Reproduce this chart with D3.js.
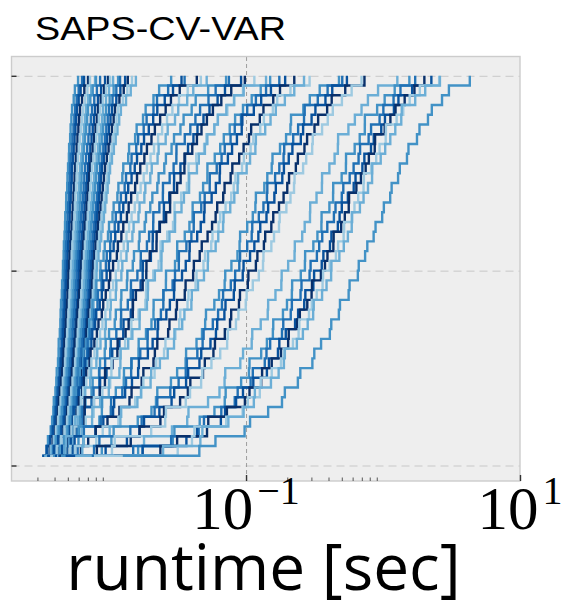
<!DOCTYPE html>
<html>
<head>
<meta charset="utf-8">
<title>SAPS-CV-VAR</title>
<style>
  body { margin: 0; background: #fff; }
  svg { display: block; }
  .grid line { stroke: #c8c8c8; stroke-width: 1; stroke-dasharray: 8,5; }
  .vgrid line { stroke: #8a8a8a; stroke-width: 0.8; stroke-dasharray: 4,3; }
  .grid path, .vgrid path, .ticks path { display: none; }
  .ticks line { stroke: #333; stroke-width: 1.4; }
  .minor line { stroke: #555; stroke-width: 1; }
</style>
</head>
<body>
<svg width="562" height="603"></svg>
<script src="https://d3js.org/d3.v7.min.js"></script>
<script>
// runtime of each run, in milliseconds; one array per instance (40 runs each)
const run01 = [3.25,3.5,3.58,3.75,3.84,3.92,3.95,4.06,4.12,4.15,4.24,4.28,4.29,4.37,4.41,4.43,4.46,4.52,4.54,4.6,4.61,4.66,4.68,4.73,4.77,4.79,4.86,4.87,4.95,4.97,5.02,5.09,5.11,5.2,5.24,5.31,5.37,5.52,5.63,5.94];
const run02 = [3.36,3.55,3.7,3.82,3.97,4.02,4.1,4.18,4.26,4.33,4.39,4.44,4.49,4.52,4.56,4.6,4.64,4.68,4.72,4.75,4.77,4.82,4.86,4.9,4.95,4.98,5.03,5.08,5.12,5.16,5.19,5.25,5.33,5.4,5.5,5.58,5.65,5.8,6.0,6.35];
const run03 = [3.25,3.5,3.72,3.9,4.03,4.1,4.18,4.27,4.33,4.4,4.46,4.52,4.58,4.62,4.67,4.72,4.76,4.8,4.85,4.9,4.93,4.98,5.03,5.07,5.12,5.16,5.2,5.25,5.3,5.34,5.37,5.45,5.52,5.6,5.68,5.76,5.84,6.0,6.2,6.57];
const run04 = [3.41,3.7,3.88,4.05,4.17,4.24,4.3,4.38,4.46,4.54,4.61,4.66,4.72,4.78,4.84,4.88,4.93,4.98,5.02,5.06,5.1,5.16,5.22,5.28,5.34,5.4,5.45,5.5,5.56,5.6,5.65,5.72,5.8,5.88,5.97,6.05,6.14,6.35,6.6,7.02];
const run05 = [3.47,3.75,3.95,4.1,4.24,4.32,4.42,4.5,4.6,4.7,4.77,4.82,4.88,4.94,5.0,5.05,5.1,5.15,5.2,5.24,5.28,5.34,5.4,5.46,5.52,5.58,5.63,5.68,5.74,5.8,5.84,5.92,6.02,6.12,6.25,6.36,6.46,6.7,6.95,7.26];
const run06 = [3.36,3.8,4.02,4.22,4.39,4.46,4.55,4.65,4.74,4.84,4.93,4.99,5.05,5.12,5.18,5.24,5.29,5.34,5.38,5.42,5.46,5.53,5.6,5.68,5.75,5.82,5.88,5.95,6.02,6.08,6.14,6.24,6.35,6.46,6.57,6.68,6.79,7.05,7.4,7.9];
const run07 = [3.59,3.9,4.12,4.3,4.46,4.55,4.64,4.74,4.84,4.93,5.02,5.08,5.15,5.22,5.3,5.37,5.43,5.5,5.56,5.6,5.65,5.72,5.8,5.88,5.96,6.03,6.1,6.17,6.24,6.3,6.35,6.45,6.56,6.67,6.8,6.92,7.02,7.3,7.6,8.03];
const run08 = [3.71,4.05,4.28,4.45,4.61,4.7,4.8,4.9,5.0,5.1,5.19,5.26,5.33,5.4,5.47,5.54,5.61,5.68,5.74,5.8,5.84,5.92,6.0,6.08,6.17,6.26,6.35,6.44,6.53,6.6,6.68,6.8,6.93,7.07,7.2,7.36,7.51,7.8,8.15,8.6];
const run09 = [3.53,3.95,4.25,4.5,4.69,4.8,4.92,5.04,5.15,5.27,5.37,5.44,5.52,5.6,5.68,5.76,5.83,5.9,5.96,6.0,6.04,6.13,6.22,6.32,6.42,6.52,6.62,6.72,6.82,6.92,7.02,7.16,7.3,7.45,7.6,7.75,7.9,8.3,8.75,9.35];
const run10 = [3.84,4.2,4.45,4.66,4.85,4.95,5.06,5.17,5.27,5.37,5.46,5.54,5.62,5.71,5.8,5.88,5.96,6.05,6.13,6.2,6.25,6.35,6.45,6.55,6.65,6.76,6.86,6.96,7.06,7.16,7.26,7.42,7.6,7.78,7.96,8.14,8.31,8.7,9.2,9.84];
const run11 = [3.71,4.15,4.45,4.72,4.93,5.04,5.16,5.28,5.41,5.53,5.65,5.73,5.82,5.91,6.0,6.09,6.18,6.27,6.36,6.42,6.46,6.56,6.66,6.77,6.88,6.99,7.1,7.2,7.3,7.4,7.51,7.7,7.88,8.06,8.24,8.42,8.6,9.0,9.5,10.17];
const run12 = [4.03,4.4,4.66,4.9,5.1,5.2,5.33,5.46,5.59,5.72,5.84,5.93,6.02,6.11,6.2,6.3,6.4,6.5,6.58,6.64,6.68,6.8,6.92,7.04,7.16,7.28,7.4,7.52,7.65,7.78,7.9,8.1,8.3,8.5,8.7,8.88,9.04,9.5,10.0,10.7];
const run13 = [3.9,4.35,4.7,4.98,5.19,5.3,5.45,5.58,5.7,5.82,5.94,6.04,6.14,6.25,6.36,6.47,6.58,6.69,6.8,6.86,6.9,7.02,7.15,7.28,7.4,7.53,7.66,7.79,7.92,8.05,8.17,8.4,8.62,8.84,9.06,9.28,9.51,10.1,10.8,11.64];
const run14 = [4.1,4.55,4.88,5.15,5.37,5.48,5.61,5.75,5.88,6.01,6.14,6.24,6.35,6.47,6.59,6.71,6.83,6.95,7.05,7.1,7.14,7.28,7.42,7.57,7.72,7.87,8.02,8.17,8.32,8.46,8.6,8.84,9.08,9.32,9.55,9.78,10.0,10.6,11.3,12.03];
const run15 = [4.03,4.55,4.92,5.22,5.46,5.6,5.75,5.9,6.06,6.21,6.35,6.46,6.57,6.69,6.81,6.93,7.05,7.17,7.28,7.34,7.39,7.54,7.69,7.84,7.99,8.14,8.29,8.44,8.59,8.74,8.89,9.16,9.43,9.7,9.97,10.25,10.52,11.3,12.1,13.1];
const run16 = [4.24,4.75,5.12,5.42,5.65,5.8,5.95,6.1,6.24,6.35,6.46,6.58,6.7,6.83,6.96,7.1,7.24,7.38,7.5,7.58,7.64,7.8,7.97,8.14,8.31,8.49,8.66,8.83,9.0,9.18,9.35,9.63,9.92,10.2,10.5,10.8,11.06,11.9,12.8,13.7];
const run17 = [4.17,4.72,5.15,5.48,5.74,5.9,6.06,6.22,6.38,6.53,6.68,6.8,6.93,7.06,7.19,7.33,7.47,7.61,7.75,7.84,7.9,8.08,8.27,8.46,8.65,8.84,9.04,9.24,9.44,9.64,9.84,10.14,10.44,10.74,11.04,11.34,11.64,12.6,13.6,14.7];
const run18 = [4.39,4.95,5.36,5.68,5.94,6.1,6.26,6.42,6.58,6.74,6.9,7.02,7.15,7.28,7.42,7.56,7.7,7.85,8.0,8.1,8.17,8.37,8.57,8.77,8.97,9.17,9.37,9.57,9.77,9.97,10.17,10.5,10.84,11.18,11.52,11.86,12.2,13.3,14.4,15.7];
const run19 = [4.66,4.86,4.95,5.18,5.24,5.47,5.7,5.76,6.05,6.11,6.46,6.51,6.75,7.09,7.15,7.5,7.56,8.02,8.08,8.6,8.66,9.12,9.3,9.82,9.99,10.6,10.8,11.5,11.7,12.5,12.7,13.8,14.0,15.5,15.9,17.7,18.5,21.1,23.2,28.4];
const run20 = [4.73,4.8,5.06,5.16,5.46,5.52,5.72,6.05,6.12,6.51,6.58,6.91,6.98,7.24,7.7,7.77,8.23,8.3,8.82,8.89,9.48,9.62,10.2,10.3,11.0,11.2,11.9,12.2,13.0,13.3,14.3,14.6,15.8,16.3,17.9,18.8,21.1,22.4,27.0,35.6];
const run21 = [4.61,4.8,4.91,5.21,5.44,5.51,5.89,6.0,6.34,6.6,6.71,7.09,7.43,7.54,7.91,8.06,8.55,8.85,9.08,9.6,9.98,10.2,10.8,11.1,11.7,12.2,12.7,13.3,13.8,14.6,15.4,16.0,17.2,18.0,19.5,21.0,22.5,25.5,29.3,33.8];
const run22 = [4.57,4.94,5.07,5.28,5.54,5.89,6.02,6.37,6.54,6.81,7.2,7.33,7.81,8.15,8.37,8.85,9.07,9.46,9.98,10.2,10.7,11.4,11.6,12.3,12.7,13.5,13.9,14.5,15.5,16.0,16.9,18.1,18.9,20.4,21.6,23.6,25.9,28.3,32.8,43.7];
const run23 = [4.58,4.75,5.11,5.31,5.56,5.92,6.22,6.47,6.82,7.18,7.43,7.83,8.19,8.59,8.95,9.4,9.75,10.2,10.7,11.2,11.7,12.2,12.8,13.4,14.0,14.6,15.4,16.1,17.0,17.9,18.9,20.1,21.3,22.8,24.4,26.5,29.0,32.4,37.5,46.8];
const run24 = [4.52,4.92,5.09,5.55,5.67,6.13,6.59,6.7,7.28,7.39,8.08,8.2,8.66,9.35,9.46,10.2,10.3,11.2,11.3,12.3,12.5,13.4,13.7,14.8,15.1,16.4,16.7,18.1,18.4,20.0,20.5,22.6,23.0,25.9,26.8,30.3,32.0,37.2,41.2,51.6];
const run25 = [4.59,4.73,5.3,5.52,6.16,6.3,6.73,7.45,7.59,8.45,8.59,9.3,9.45,10.0,11.0,11.2,12.2,12.3,13.5,13.6,14.9,15.2,16.5,16.7,18.2,18.6,20.0,20.7,22.5,23.0,25.3,26.0,28.6,29.8,33.2,35.0,40.1,42.9,52.9,71.5];
const run26 = [4.46,4.9,4.95,5.86,6.39,6.4,7.44,7.7,8.49,8.5,9.36,10.2,10.3,11.3,12.2,12.25,13.7,14.4,14.45,16.1,17.0,17.05,18.9,19.6,21.0,21.05,23.3,24.7,24.75,27.7,29.6,31.0,31.05,35.7,39.2,42.7,46.2,53.2,60.0,75.0];
const run27 = [4.36,5.22,5.25,6.03,6.64,6.65,7.75,8.56,8.6,9.58,10.5,10.55,11.9,12.7,12.75,14.4,14.9,14.95,17.0,17.6,17.65,20.2,20.8,20.85,23.3,25.1,25.15,27.5,29.8,29.85,33.2,35.9,37.7,41.3,44.2,48.9,54.1,62.0,70.2,92.0];
const run28 = [4.49,4.86,4.9,5.63,6.61,6.62,6.65,8.57,9.33,9.35,10.6,11.5,11.55,13.2,13.9,14.9,14.95,15.7,17.6,18.7,18.75,19.8,22.2,22.25,23.5,26.1,27.9,27.95,31.4,33.3,35.5,35.55,40.5,43.8,47.3,51.8,57.3,66.0,78.0,98.0];
const run29 = [4.34,5.19,5.55,5.6,6.76,7.73,7.75,8.94,10.2,10.4,10.45,12.1,13.1,14.5,14.55,16.4,18.4,18.6,18.65,21.0,23.0,23.7,23.75,26.6,29.3,30.0,30.05,33.6,37.0,38.0,38.05,43.3,49.4,51.3,58.6,62.2,73.1,81.5,95.0,115];
const run30 = [4.54,4.81,4.85,6.3,7.52,7.55,8.61,9.96,10.0,11.9,12.1,12.15,13.8,14.8,16.7,16.75,18.9,19.2,19.25,21.6,24.1,24.15,24.6,27.6,30.3,30.35,33.8,35.2,38.4,38.45,43.8,45.2,50.1,52.2,58.7,62.3,71.8,82.0,96.1,140];
const run31 = [4.54,5.44,5.98,6.0,8.5,8.86,8.9,11.2,12.8,12.85,14.6,16.4,16.45,18.6,20.4,21.1,21.15,24.9,26.0,26.05,30.3,31.4,31.45,35.7,38.6,40.7,40.75,46.1,48.6,52.2,52.25,59.1,64.8,68.8,76.0,83.2,95.0,110,128,150];
const run32 = [4.22,5.9,6.5,6.55,8.7,10.3,10.35,12.5,13.3,14.5,14.55,16.9,19.1,19.15,21.7,23.9,24.9,24.95,29.1,30.3,32.3,32.35,36.7,39.9,41.5,41.55,47.1,49.9,54.3,54.35,61.1,66.3,69.9,77.1,82.7,91.9,102,118,140,175];
const run33 = [4.71,5.48,5.6,7.95,9.08,10.7,10.9,13.1,14.7,16.3,16.5,19.2,20.8,22.6,22.8,26.2,27.8,29.8,30.0,34.1,36.3,38.6,38.8,44.0,46.7,49.4,49.8,56.1,60.2,64.2,64.5,73.7,79.1,85.8,93.0,94,114,129,152,193];
const run34 = [4.34,6.23,7.04,8.0,9.74,11.9,14.1,14.6,17.3,17.8,21.1,21.6,22.5,27.0,27.6,30.8,31.3,35.7,36.2,41.1,41.6,45.9,47.5,52.4,56.5,60.0,61.6,68.1,69.7,77.2,79.4,89.1,96,105,109,126,134,158,177,225];
const run35 = [5.02,5.63,8.07,8.99,11.7,12.3,15.5,17.2,17.8,21.5,22.1,25.2,25.8,30.5,32.5,33.1,37.4,38.0,42.8,43.5,48.9,50.2,55.7,56.9,63.0,64.8,70.9,78.0,81.3,83.7,93.5,96.5,108,113,127,135,157,169,211,291];
const run36 = [4.7,6.38,6.5,10.1,12.1,12.2,16.1,17.1,20.1,20.3,23.5,26.8,29.8,30.0,34.2,35.5,39.9,40.2,44.6,49.3,52.6,52.8,60.0,62.7,68.0,68.5,76.7,82.1,86.8,87.5,101,107,117,118,138,151,165,192,225,265];
const run37 = [4.44,8.85,10.4,10.8,16.2,20.4,22.0,22.5,28.3,31.4,36.2,36.5,43.5,47.7,50.3,51.0,58.7,63.5,69.8,70.5,78.2,86.6,89.7,90.5,102,112,117,118,136,143,154,156,177,196,211,213,262,292,345,477];
const run38 = [5.74,7.77,8.5,14.3,17.3,21.5,22.5,28.0,32.2,36.3,37.0,44.1,48.2,49.0,57.2,62.5,66.7,68.0,77.4,83.3,89.3,90.5,102,110,111,124,134,142,143,163,175,188,190,221,240,265,268,334,394,504];
const run39 = [4.82,9.44,13.5,16.7,18.0,23.3,28.6,29.9,36.5,37.8,45.7,47.1,55.0,60.3,61.6,69.5,70.8,81.4,82.7,94.6,95.9,107,115,123,127,141,145,161,165,184,189,205,218,251,261,301,321,380,426,545];
const run40 = [6.6,8.15,14.4,16.7,23.7,25.2,33.0,37.6,39.2,48.5,50.0,57.8,59.3,70.0,76.4,77.9,88.8,90.3,103,104,118,121,135,138,153,158,174,188,200,206,231,239,267,279,316,336,391,422,530,732];
const run41 = [6.07,10.5,11.0,20.3,25.7,26.0,36.3,39.0,47.0,48.0,55.9,64.8,72.8,73.5,84.4,88.0,99.5,101,112,124,133,134,153,160,174,176,197,211,224,226,261,275,304,307,359,395,430,501,590,697];
const run42 = [5.66,17.5,18.0,28.8,37.2,38.0,52.8,64.0,69.7,70.5,90.8,95.1,110,111,128,144,145,164,181,182,203,226,227,257,268,293,294,327,358,359,406,443,468,470,559,623,697,776,920,1272];
const run43 = [9.96,16.3,29.2,30.0,45.9,58.8,69.9,71.0,92.1,105,106,129,142,157,158,186,199,216,217,251,269,270,310,332,355,356,406,432,433,499,536,537,621,676,736,737,906,1028,1217,1557];
const run44 = [7.48,15.0,28.4,45.1,49.3,66.0,82.7,86.9,108,112,137,141,150,183,187,212,216,250,254,291,296,329,342,360,392,438,450,500,513,571,610,663,680,785,818,944,1006,1194,1341,1717];
const run45 = [12.8,17.6,36.7,43.9,65.5,70.3,84.6,95,113,142,147,171,175,195,228,240,266,271,310,314,357,367,410,420,468,482,500,554,611,630,707,731,817,856,971,1033,1201,1296,1632,2254];
const run46 = [10.9,23.7,31.4,51.9,53.0,72.5,98.1,106,129,131,154,180,203,205,236,247,280,301,303,352,377,393,434,436,495,526,562,565,639,690,747,788,870,875,1029,1132,1234,1439,1696,2004];
const run47 = [7.76,31.7,40.3,42.0,71.6,94.4,103,126,128,154,180,188,220,242,245,288,302,328,362,365,408,453,470,516,520,590,619,659,721,725,818,892,944,1046,1050,1257,1405,1565,1856,2568];
const run48 = [14.2,24.8,46.4,48.0,74.3,96.0,114,116,152,173,189,192,235,260,282,309,312,359,387,418,420,480,517,554,591,595,678,721,777,832,835,962,1037,1130,1229,1359,1370,1718,2033,2603];
const run49 = [12.6,45.6,59.8,97.6,107,145,183,192,239,249,305,315,353,409,419,476,485,561,570,655,665,740,768,854,882,986,1014,1128,1156,1288,1326,1496,1534,1770,1846,2129,2271,2696,3027,4300];

const runs = [run01, run02, run03, run04, run05, run06, run07, run08, run09, run10,
              run11, run12, run13, run14, run15, run16, run17, run18, run19, run20,
              run21, run22, run23, run24, run25, run26, run27, run28, run29, run30,
              run31, run32, run33, run34, run35, run36, run37, run38, run39, run40,
              run41, run42, run43, run44, run45, run46, run47, run48, run49];

const xTicks = [0.1, 10];
const xMinorTicks = [0.003, 0.004, 0.005, 0.006, 0.007, 0.008, 0.009,
                     0.2, 0.3, 0.4, 0.5, 0.6, 0.7, 0.8, 0.9];
const yTicks = [0, 0.5, 1];
const palette = ['#9ecae1', '#6baed6', '#4292c6', '#2171b5', '#08519c', '#08306b'];

// plot box in pixels
const plotLeft = 11.5, plotRight = 520, plotTop = 56.5, plotBottom = 481;

const svg = d3.select('svg');

const x = d3.scaleLog()
    .domain([0.00194, 10])
    .range([plotLeft, plotRight]);

const y = d3.scaleLinear()
    .domain([0, 1])
    .range([465.5, 75.8]);

// plot background
svg.append('rect')
    .attr('x', plotLeft).attr('y', plotTop)
    .attr('width', plotRight - plotLeft).attr('height', plotBottom - plotTop)
    .attr('fill', '#eeeeee');

svg.append('clipPath').attr('id', 'plot')
  .append('rect')
    .attr('x', plotLeft).attr('y', plotTop)
    .attr('width', plotRight - plotLeft).attr('height', plotBottom - plotTop);

// grid
svg.append('g')
    .attr('class', 'grid')
    .attr('transform', `translate(${plotLeft},0)`)
    .call(d3.axisLeft(y).tickValues(yTicks).tickSize(-(plotRight - plotLeft)).tickFormat(''));

svg.append('g')
    .attr('class', 'vgrid')
    .attr('transform', `translate(0,${plotBottom})`)
    .call(d3.axisBottom(x).tickValues([0.1]).tickSize(-(plotBottom - plotTop)).tickFormat(''));

// one empirical cdf per instance
const line = d3.line()
    .x(d => x(d[0]))
    .y(d => y(d[1]))
    .curve(d3.curveStepAfter);

function ecdf(ms) {
    const t = ms.map(v => v / 1000).sort(d3.ascending);
    return t.map((v, i) => [v, (i + 1) / t.length]);
}

svg.append('g')
    .attr('clip-path', 'url(#plot)')
  .selectAll('path')
  .data(runs)
  .join('path')
    .attr('fill', 'none')
    .attr('stroke', (d, i) => palette[(i + 2) % palette.length])
    .attr('stroke-width', 2.4)
    .attr('d', d => line(ecdf(d)));

// frame
svg.append('rect')
    .attr('x', plotLeft).attr('y', plotTop)
    .attr('width', plotRight - plotLeft).attr('height', plotBottom - plotTop)
    .attr('fill', 'none')
    .attr('stroke', '#cccccc')
    .attr('stroke-width', 1.4);

// ticks point inwards
svg.append('g')
    .attr('class', 'ticks')
    .attr('transform', `translate(${plotLeft},0)`)
    .call(d3.axisLeft(y).tickValues(yTicks).tickSizeInner(-5).tickSizeOuter(0).tickFormat(''));

svg.append('g')
    .attr('class', 'ticks')
    .attr('transform', `translate(0,${plotBottom})`)
    .call(d3.axisBottom(x).tickValues(xTicks).tickSizeInner(-6).tickSizeOuter(0).tickFormat(''));

svg.append('g')
    .attr('class', 'ticks minor')
    .attr('transform', `translate(0,${plotBottom})`)
    .call(d3.axisBottom(x).tickValues(xMinorTicks).tickSizeInner(-3.5).tickSizeOuter(0).tickFormat(''));

// tick labels as 10^k
const labels = svg.append('g')
  .selectAll('text')
  .data(xTicks)
  .join('text')
    .attr('x', d => x(d))
    .attr('y', 529)
    .attr('text-anchor', 'middle')
    .style('font-family', '"Liberation Serif", "DejaVu Serif", serif')
    .style('font-size', '61px')
    .attr('fill', '#000');

labels.append('tspan').text('10');
labels.append('tspan')
    .attr('dx', 4)
    .attr('dy', -25)
    .style('font-size', '40px')
    .text(d => d3.format('d')(Math.round(Math.log10(d))));

svg.append('text')
    .attr('x', 263.5)
    .attr('y', 590)
    .attr('text-anchor', 'middle')
    .style('font-family', '"Open Sans", sans-serif')
    .style('font-size', '64px')
    .text('runtime [sec]');

svg.append('text')
    .attr('x', 35)
    .attr('y', 39.5)
    .attr('textLength', 251)
    .attr('lengthAdjust', 'spacingAndGlyphs')
    .style('font-family', '"Liberation Sans", Arial, sans-serif')
    .style('font-size', '33px')
    .text('SAPS-CV-VAR');
</script>
</body>
</html>
